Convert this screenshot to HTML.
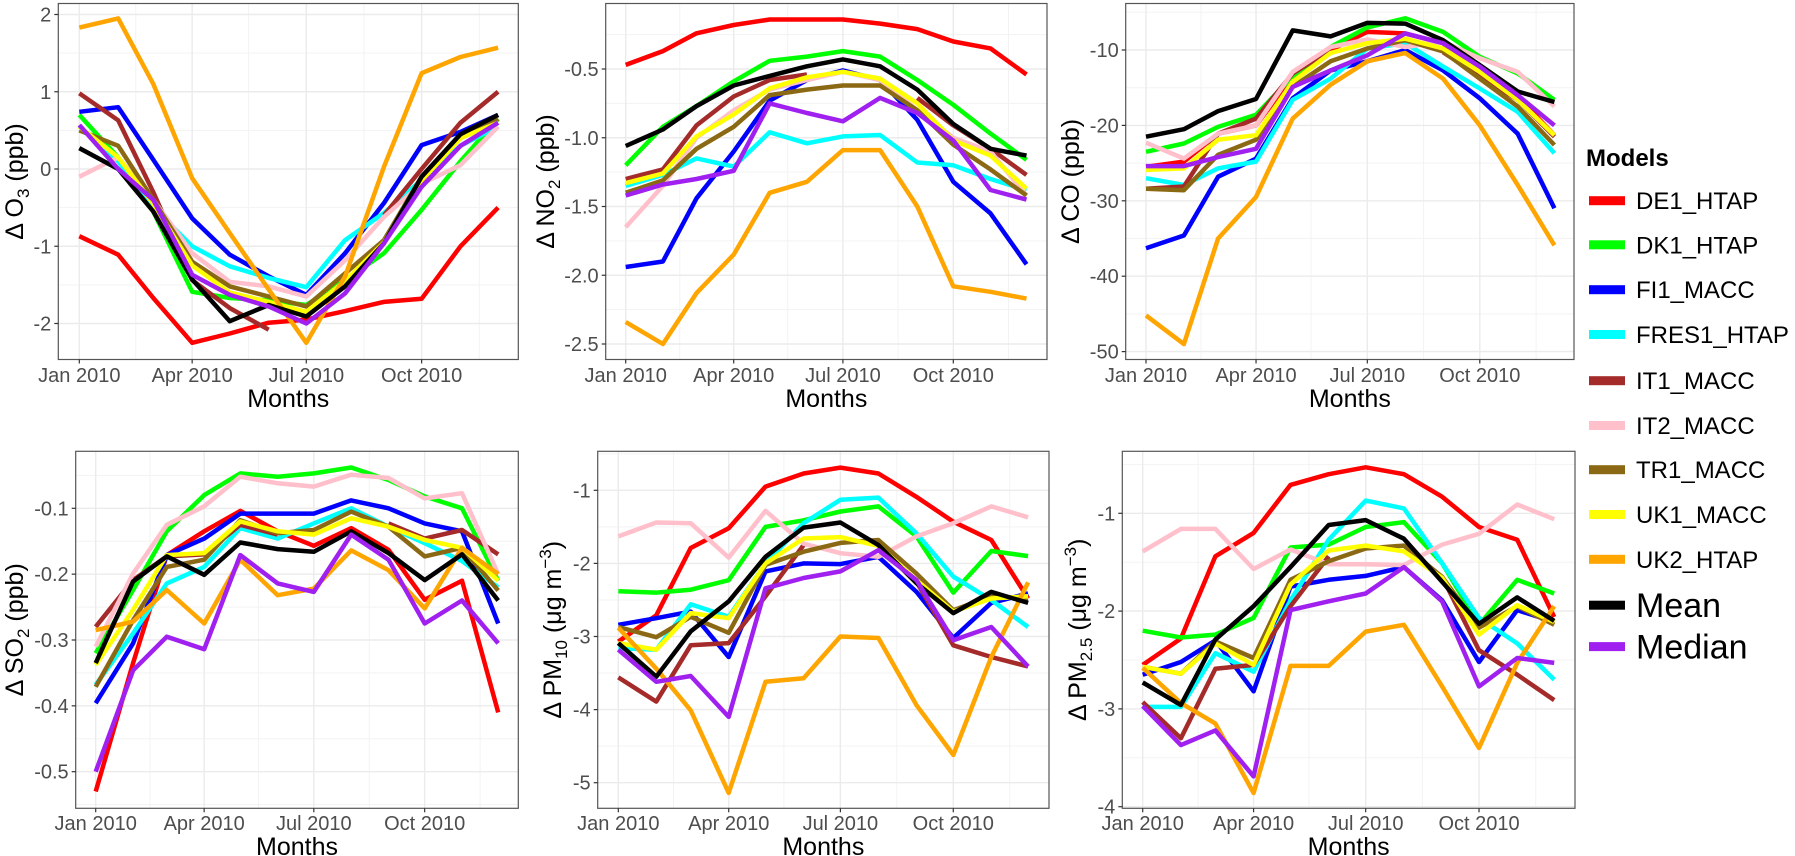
<!DOCTYPE html>
<html><head><meta charset="utf-8">
<style>
html,body{margin:0;padding:0;background:#fff;}
svg{display:block;font-family:"Liberation Sans",sans-serif;}
</style></head>
<body>
<svg id="chart" width="1795" height="856" viewBox="0 0 1795 856" xmlns="http://www.w3.org/2000/svg"></svg>
<script>
// ---------- data ----------
const models = ["DE1_HTAP","DK1_HTAP","FI1_MACC","FRES1_HTAP","IT1_MACC","IT2_MACC","TR1_MACC","UK1_MACC","UK2_HTAP","Mean","Median"];
const colors = ["#ff0000","#00ff00","#0000ff","#00ffff","#a52a2a","#ffc0cb","#8b6914","#ffff00","#ffa500","#000000","#a020f0"];
const monthDays = [0,31,59,90,120,151,181,212,243,273,304,334];
const xTickDays = [0,90,181,273];
const xTickLabels = ["Jan 2010","Apr 2010","Jul 2010","Oct 2010"];
const N = null;

const o3Values = [
 [-0.87,-1.11,-1.67,-2.25,-2.13,-1.99,-1.95,-1.84,-1.72,-1.68,-1.0,-0.5],
 [0.7,0.15,-0.55,-1.59,-1.67,-1.7,-1.76,-1.44,-1.09,-0.53,0.1,0.65],
 [0.74,0.8,0.12,-0.64,-1.11,-1.39,-1.63,-1.09,-0.44,0.31,0.48,0.7],
 [0.55,0.1,-0.5,-1.0,-1.26,-1.41,-1.53,-0.92,-0.57,-0.14,0.3,0.55],
 [0.98,0.63,-0.3,-1.44,-1.8,-2.08,N,N,-0.6,0.0,0.6,1.0],
 [-0.1,0.15,-0.4,-1.09,-1.46,-1.52,-1.65,-1.18,-0.62,-0.19,0.05,0.55],
 [0.5,0.3,-0.4,-1.2,-1.52,-1.65,-1.78,-1.35,-0.92,-0.1,0.4,0.65],
 [0.55,0.15,-0.45,-1.25,-1.6,-1.72,-1.85,-1.45,-0.95,-0.15,0.4,0.6],
 [1.83,1.95,1.1,-0.12,-0.83,-1.56,-2.25,-1.39,0.03,1.24,1.45,1.57],
 [0.27,0.0,-0.55,-1.43,-1.97,-1.76,-1.91,-1.52,-0.96,-0.1,0.45,0.7],
 [0.57,0.0,-0.4,-1.37,-1.63,-1.78,-2.0,-1.61,-0.96,-0.23,0.3,0.6]
];
const no2Values = [
 [-0.47,-0.37,-0.24,-0.18,-0.14,-0.14,-0.14,-0.17,-0.21,-0.30,-0.35,-0.54],
 [-1.20,-0.92,-0.77,-0.59,-0.44,-0.41,-0.37,-0.41,-0.58,-0.76,-0.97,-1.16],
 [-1.94,-1.90,-1.44,-1.10,-0.73,-0.58,-0.51,-0.58,-0.87,-1.32,-1.55,-1.92],
 [-1.35,-1.27,-1.15,-1.21,-0.96,-1.04,-0.99,-0.98,-1.18,-1.20,-1.30,-1.38],
 [-1.30,-1.23,-0.91,-0.70,-0.58,-0.54,N,N,-0.71,-0.91,-1.08,-1.27],
 [-1.65,-1.35,-1.0,-0.8,-0.65,-0.58,-0.52,-0.58,-0.8,-1.0,-1.1,-1.42],
 [-1.40,-1.31,-1.08,-0.92,-0.69,-0.65,-0.62,-0.62,-0.80,-1.05,-1.23,-1.42],
 [-1.33,-1.26,-0.99,-0.83,-0.64,-0.56,-0.52,-0.57,-0.75,-1.02,-1.13,-1.37],
 [-2.34,-2.50,-2.13,-1.85,-1.40,-1.32,-1.09,-1.09,-1.50,-2.08,-2.12,-2.17],
 [-1.06,-0.94,-0.77,-0.62,-0.55,-0.48,-0.43,-0.48,-0.65,-0.90,-1.08,-1.13],
 [-1.42,-1.34,-1.30,-1.24,-0.75,-0.82,-0.88,-0.71,-0.82,-1.02,-1.38,-1.45]
];
const coValues = [
 [-25.5,-24.8,-21.1,-20.0,-13.5,-10.0,-7.6,-7.8,-9.1,-13.5,-16.2,-21.3],
 [-23.5,-22.4,-20.2,-18.6,-13.5,-9.6,-7.0,-5.8,-7.6,-10.9,-13.1,-16.6],
 [-36.3,-34.6,-26.8,-24.4,-16.4,-12.7,-11.5,-10.0,-12.7,-16.4,-21.1,-31.0],
 [-27.0,-27.9,-25.7,-24.8,-16.6,-13.8,-9.8,-9.1,-12.2,-15.1,-18.2,-23.7],
 [-28.4,-28.1,-21.1,-19.1,-13.1,-10.0,N,N,-10.3,-13.5,-16.6,-21.5],
 [-22.3,-24.4,-21.1,-20.0,-12.9,-9.6,-8.6,-9.6,-8.9,-11.1,-12.9,-17.5],
 [-28.4,-28.6,-23.9,-21.9,-14.9,-11.5,-9.8,-8.7,-10.2,-13.8,-17.5,-22.6],
 [-25.9,-25.7,-21.9,-21.3,-14.2,-10.4,-9.1,-8.5,-9.8,-12.9,-16.6,-21.3],
 [-45.2,-49.0,-35.0,-29.5,-19.1,-14.6,-11.5,-10.4,-13.8,-20.0,-27.9,-35.9],
 [-21.5,-20.5,-18.1,-16.5,-7.4,-8.2,-6.4,-6.5,-8.7,-12.0,-15.5,-16.9],
 [-25.4,-25.4,-24.2,-23.1,-14.9,-12.7,-10.7,-7.8,-9.1,-12.2,-16.0,-20.0]
];
const so2Values = [
 [-0.53,-0.335,-0.171,-0.135,-0.104,-0.135,-0.157,-0.13,-0.163,-0.239,-0.21,-0.41],
 [-0.32,-0.224,-0.135,-0.08,-0.047,-0.052,-0.047,-0.038,-0.057,-0.082,-0.10,-0.21],
 [-0.396,-0.305,-0.171,-0.146,-0.108,-0.108,-0.108,-0.088,-0.1,-0.123,-0.135,-0.275],
 [-0.368,-0.29,-0.214,-0.189,-0.13,-0.146,-0.123,-0.1,-0.128,-0.153,-0.18,-0.22],
 [-0.28,-0.209,-0.173,-0.17,-0.125,-0.14,N,N,-0.123,-0.146,-0.133,-0.17],
 [-0.31,-0.199,-0.125,-0.097,-0.052,-0.062,-0.067,-0.049,-0.054,-0.085,-0.077,-0.20],
 [-0.371,-0.27,-0.189,-0.178,-0.118,-0.138,-0.133,-0.105,-0.128,-0.173,-0.16,-0.225],
 [-0.338,-0.254,-0.171,-0.168,-0.12,-0.135,-0.14,-0.115,-0.128,-0.148,-0.16,-0.21],
 [-0.285,-0.272,-0.224,-0.275,-0.178,-0.232,-0.222,-0.164,-0.194,-0.252,-0.16,-0.20],
 [-0.335,-0.211,-0.173,-0.201,-0.152,-0.162,-0.166,-0.135,-0.168,-0.209,-0.17,-0.24],
 [-0.50,-0.346,-0.295,-0.314,-0.171,-0.214,-0.227,-0.14,-0.178,-0.275,-0.24,-0.305]
];
const pm10Values = [
 [-3.07,-2.71,-1.79,-1.52,-0.95,-0.77,-0.69,-0.77,-1.09,-1.43,-1.68,-2.48],
 [-2.38,-2.40,-2.36,-2.23,-1.50,-1.41,-1.29,-1.22,-1.63,-2.40,-1.83,-1.90],
 [-2.84,-2.75,-2.66,-3.28,-2.11,-2.00,-2.01,-1.91,-2.39,-3.02,-2.54,-2.41],
 [-3.16,-3.18,-2.56,-2.73,-2.0,-1.45,-1.13,-1.10,-1.59,-2.18,-2.50,-2.87],
 [-3.56,-3.89,-3.12,-3.09,-2.45,-1.75,N,N,-2.25,-3.12,-3.28,-3.41],
 [-1.63,-1.44,-1.45,-1.92,-1.28,-1.73,-1.86,-1.91,-1.63,-1.45,-1.22,-1.37],
 [-2.87,-3.01,-2.73,-2.95,-2.02,-1.84,-1.72,-1.68,-2.14,-2.64,-2.45,-2.48],
 [-3.09,-3.18,-2.68,-2.75,-2.0,-1.66,-1.64,-1.76,-2.23,-2.66,-2.48,-2.45],
 [-2.88,-3.44,-4.01,-5.14,-3.62,-3.57,-3.0,-3.02,-3.94,-4.62,-3.28,-2.26],
 [-3.09,-3.55,-2.93,-2.52,-1.91,-1.51,-1.44,-1.75,-2.27,-2.68,-2.39,-2.54],
 [-3.18,-3.62,-3.54,-4.10,-2.34,-2.20,-2.11,-1.82,-2.23,-3.05,-2.87,-3.41]
];
const pm25Values = [
 [-2.55,-2.28,-1.44,-1.20,-0.71,-0.60,-0.53,-0.60,-0.83,-1.14,-1.27,-2.06],
 [-2.20,-2.27,-2.24,-2.07,-1.35,-1.32,-1.14,-1.09,-1.51,-2.14,-1.68,-1.82],
 [-2.65,-2.52,-2.30,-2.82,-1.75,-1.68,-1.64,-1.55,-1.89,-2.52,-1.99,-2.11],
 [-2.98,-2.98,-2.43,-2.62,-1.89,-1.27,-0.87,-0.95,-1.51,-2.07,-2.33,-2.70],
 [-2.93,-3.30,-2.59,-2.55,-1.95,-1.44,N,N,-1.65,-2.40,-2.65,-2.91],
 [-1.39,-1.16,-1.16,-1.57,-1.37,-1.52,-1.52,-1.53,-1.32,-1.21,-0.91,-1.06],
 [-2.57,-2.64,-2.31,-2.48,-1.68,-1.49,-1.36,-1.33,-1.65,-2.17,-1.95,-2.14],
 [-2.57,-2.64,-2.33,-2.55,-1.73,-1.38,-1.33,-1.39,-1.66,-2.24,-1.94,-2.11],
 [-2.58,-2.94,-3.15,-3.86,-2.56,-2.56,-2.21,-2.14,-2.77,-3.40,-2.53,-1.95],
 [-2.73,-2.96,-2.29,-1.95,-1.55,-1.12,-1.07,-1.26,-1.70,-2.13,-1.86,-2.10],
 [-2.97,-3.37,-3.22,-3.69,-1.99,-1.90,-1.82,-1.55,-1.90,-2.77,-2.48,-2.53]
];
const o3Ticks = [2,1,0,-1,-2];
const no2Ticks = [-0.5,-1.0,-1.5,-2.0,-2.5];
const coTicks = [-10,-20,-30,-40,-50];
const so2Ticks = [-0.1,-0.2,-0.3,-0.4,-0.5];
const pm10Ticks = [-1,-2,-3,-4,-5];
const pm25Ticks = [-1,-2,-3,-4];

// ---------- layout ----------
const NS = "http://www.w3.org/2000/svg";
const svg = document.getElementById("chart");
function mk(tag, attrs, parent){
  const e = document.createElementNS(NS, tag);
  for (const k in attrs) e.setAttribute(k, attrs[k]);
  (parent||svg).appendChild(e);
  return e;
}

const panels = [
 {id:"o3", data:o3Values, ticks:o3Ticks, dec:0, L:58.3, R:518.3, T:3.5, B:359.5, x0:79.3, ppd:1.254, yRef:0, yRefPx:169, ppu:77.25, title:["Δ O","3"," (ppb)"], tx:14, xlabY:375, mlabY:398},
 {id:"no2", data:no2Values, ticks:no2Ticks, dec:1, L:605.7, R:1047, T:3.5, B:359.5, x0:625.7, ppd:1.2, yRef:-0.5, yRefPx:69, ppu:137.5, title:["Δ NO","2"," (ppb)"], tx:545, xlabY:375, mlabY:398},
 {id:"co", data:coValues, ticks:coTicks, dec:0, L:1125.7, R:1574, T:3.5, B:359.5, x0:1146, ppd:1.2227, yRef:-10, yRefPx:50, ppu:7.54, title:["Δ CO (ppb)"], tx:1070, xlabY:375, mlabY:398},
 {id:"so2", data:so2Values, ticks:so2Ticks, dec:1, L:75.7, R:518.3, T:451.3, B:808.3, x0:95.7, ppd:1.205, yRef:-0.1, yRefPx:508.3, ppu:658.5, title:["Δ SO","2"," (ppb)"], tx:14, xlabY:823, mlabY:846},
 {id:"pm10", data:pm10Values, ticks:pm10Ticks, dec:0, L:597.7, R:1049, T:451.3, B:808.3, x0:618.3, ppd:1.227, yRef:-1, yRefPx:490.3, ppu:73.1, title:["Δ PM","10"," (μg m","−3",")"], tx:552, xlabY:823, mlabY:846},
 {id:"pm25", data:pm25Values, ticks:pm25Ticks, dec:0, L:1122.3, R:1575, T:451.3, B:808.3, x0:1142.7, ppd:1.232, yRef:-1, yRefPx:513.3, ppu:97.8, title:["Δ PM","2.5"," (μg m","−3",")"], tx:1077, xlabY:823, mlabY:846}
];

panels.forEach(p => {
  const xs = d => p.x0 + d * p.ppd;
  const ys = v => p.yRefPx - (v - p.yRef) * p.ppu;
  const g = mk("g", {});
  
  
  mk("rect", {x:p.L, y:p.T, width:p.R-p.L, height:p.B-p.T, fill:"#fff"}, g);
  // minor grid y
  const step = p.ticks[0]-p.ticks[1];
  for (let i=0;i<=p.ticks.length;i++){
    const v = p.ticks[0] + step/2 - i*step;
    const y = ys(v);
    if (y>p.T && y<p.B) mk("line",{x1:p.L,x2:p.R,y1:y,y2:y,stroke:"#f3f3f3","stroke-width":1},g);
  }
  // minor grid x (midpoints)
  const minorDays = [45,135,227,319];
  minorDays.forEach(d=>{ const x=xs(d); if(x>p.L&&x<p.R) mk("line",{x1:x,x2:x,y1:p.T,y2:p.B,stroke:"#f3f3f3","stroke-width":1},g);});
  // major grid
  p.ticks.forEach(v=>{ const y=ys(v); mk("line",{x1:p.L,x2:p.R,y1:y,y2:y,stroke:"#ebebeb","stroke-width":1.4},g);});
  xTickDays.forEach(d=>{ const x=xs(d); mk("line",{x1:x,x2:x,y1:p.T,y2:p.B,stroke:"#ebebeb","stroke-width":1.4},g);});
  // series
  p.data.forEach((series, si) => {
    let segs = [], cur = [];
    series.forEach((v,i)=>{
      if (v===null){ if(cur.length) segs.push(cur); cur=[]; }
      else cur.push(xs(monthDays[i]).toFixed(1)+","+ys(v).toFixed(1));
    });
    if(cur.length) segs.push(cur);
    segs.forEach(s=>{
      const pl = mk("polyline",{points:s.join(" "),fill:"none",stroke:colors[si],"stroke-width":4.5,"stroke-linejoin":"round"},g);
      
      
    });
  });
  // border
  mk("rect",{x:p.L,y:p.T,width:p.R-p.L,height:p.B-p.T,fill:"none",stroke:"#555","stroke-width":1.2},g);
  // y ticks
  p.ticks.forEach(v=>{
    const y=ys(v);
    mk("line",{x1:p.L-4,x2:p.L,y1:y,y2:y,stroke:"#333","stroke-width":1.2},g);
    const t=mk("text",{x:p.L-7,y:y+7,"text-anchor":"end","font-size":20,fill:"#4d4d4d"},g);
    t.textContent = p.dec ? v.toFixed(p.dec) : String(v);
    
    
  });
  // x ticks
  xTickDays.forEach((d,i)=>{
    const x=xs(d);
    mk("line",{x1:x,x2:x,y1:p.B,y2:p.B+4,stroke:"#333","stroke-width":1.2},g);
    const t=mk("text",{x:x,y:p.xlabY+7,"text-anchor":"middle","font-size":20,fill:"#4d4d4d"},g);
    t.textContent = xTickLabels[i];
    
    
  });
  // x title
  const xt = mk("text",{x:(p.L+p.R)/2,y:p.mlabY+9,"text-anchor":"middle","font-size":25,fill:"#000"},g);
  xt.textContent = "Months";
  
  
  // y title
  const cy = (p.T+p.B)/2;
  const yt = mk("text",{x:0,y:0,"text-anchor":"middle","font-size":25,fill:"#000",transform:`translate(${p.tx+9},${cy}) rotate(-90)`},g);
  
  
  p.title.forEach((part, k)=>{
    const ts = document.createElementNS(NS,"tspan");
    ts.textContent = part;
    if (p.title.length>1 && (k===1)) { ts.setAttribute("font-size","17"); ts.setAttribute("dy","6"); }
    else if (k===2) { ts.setAttribute("dy","-6"); }
    else if (k===3) { ts.setAttribute("font-size","17"); ts.setAttribute("dy","-10"); }
    else if (k===4) { ts.setAttribute("dy","10"); }
    yt.appendChild(ts);
  });
});

// ---------- legend ----------
const lg = mk("g",{});


const lt = mk("text",{x:1586,y:166,"font-size":24,"font-weight":"bold",fill:"#000"},lg);
lt.textContent = "Models";


const legendY = [200.7,244.8,289.7,334.5,380.7,425.5,469.7,514.5,559.3,605.2,646.6];
models.forEach((m,i)=>{
  const y = legendY[i];
  const big = i>=9;
  const k = mk("rect",{x:1589,y:y-4.5,width:36,height:9,fill:colors[i]},lg);
  
  
  const t = mk("text",{x:1636,y:y+(big?12:8.5),"font-size":big?34:24,fill:"#000"},lg);
  t.textContent = m;
  
  
});
</script>
</body></html>
